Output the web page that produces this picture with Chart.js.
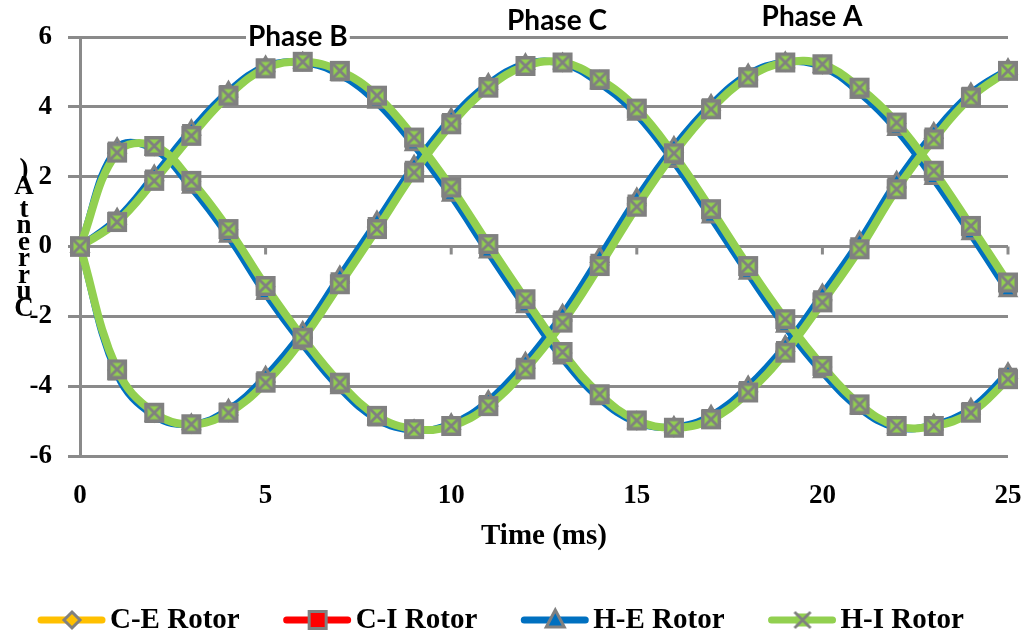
<!DOCTYPE html>
<html>
<head>
<meta charset="utf-8">
<script src="https://cdn.jsdelivr.net/npm/chart.js"></script>
<style>
  html, body { margin: 0; padding: 0; background: #fff; }
  #wrap { width: 1033px; height: 638px; }
</style>
</head>
<body>
<div id="wrap"><canvas id="chart" width="1033" height="638"></canvas></div>
<script>
// Data
const timeMs = [0, 1, 2, 3, 4, 5, 6, 7, 8, 9, 10, 11, 12, 13, 14, 15, 16, 17, 18, 19, 20, 21, 22, 23, 24, 25];
const xTicks = [0, 5, 10, 15, 20, 25];
const yTicks = [6, 4, 2, 0, -2, -4, -6];
const rotors = ['C-E Rotor', 'C-I Rotor', 'H-E Rotor', 'H-I Rotor'];
const phaseNames = ['Phase A', 'Phase B', 'Phase C'];

const ceA = [0, 2.70, 2.87, 1.86, 0.48, -1.15, -2.63, -3.92, -4.86, -5.23, -5.13, -4.55, -3.50, -2.15, -0.53, 1.17, 2.70, 3.95, 4.86, 5.28, 5.21, 4.53, 3.52, 2.14, 0.56, -1.06];
const ceB = [0, 0.71, 1.90, 3.20, 4.34, 5.12, 5.30, 5.02, 4.30, 3.10, 1.66, 0.04, -1.54, -3.05, -4.25, -4.99, -5.19, -4.94, -4.16, -3.01, -1.56, -0.05, 1.67, 3.10, 4.29, 5.04];
const ceC = [0, -3.54, -4.77, -5.09, -4.75, -3.88, -2.62, -1.05, 0.53, 2.15, 3.53, 4.57, 5.18, 5.27, 4.78, 3.93, 2.60, 1.04, -0.59, -2.11, -3.45, -4.54, -5.14, -5.14, -4.74, -3.78];

const ciA = [0, 2.74, 2.84, 1.80, 0.42, -1.22, -2.68, -3.96, -4.89, -5.24, -5.12, -4.52, -3.45, -2.10, -0.47, 1.22, 2.74, 3.98, 4.87, 5.27, 5.19, 4.50, 3.48, 2.08, 0.50, -1.13];
const ciB = [0, 0.74, 1.94, 3.24, 4.36, 5.12, 5.28, 4.99, 4.25, 3.04, 1.60, -0.02, -1.59, -3.09, -4.28, -5.00, -5.18, -4.92, -4.12, -2.97, -1.52, 0.00, 1.72, 3.14, 4.31, 5.05];
const ciC = [0, -3.57, -4.79, -5.09, -4.73, -3.84, -2.57, -1.00, 0.58, 2.19, 3.56, 4.59, 5.19, 5.26, 4.75, 3.89, 2.55, 0.98, -0.64, -2.16, -3.48, -4.56, -5.15, -5.13, -4.72, -3.74];

const heA = [0, 2.82, 2.78, 1.68, 0.28, -1.36, -2.80, -4.06, -4.95, -5.26, -5.08, -4.42, -3.32, -1.95, -0.30, 1.38, 2.86, 4.06, 4.93, 5.28, 5.14, 4.40, 3.34, 1.93, 0.35, -1.28];
const heB = [0, 0.80, 2.04, 3.34, 4.44, 5.16, 5.26, 4.92, 4.12, 2.90, 1.45, -0.17, -1.74, -3.21, -4.36, -5.04, -5.16, -4.84, -4.00, -2.84, -1.37, 0.15, 1.86, 3.26, 4.39, 5.08];
const heC = [0, -3.66, -4.85, -5.09, -4.67, -3.72, -2.44, -0.85, 0.72, 2.32, 3.67, 4.66, 5.23, 5.24, 4.67, 3.77, 2.42, 0.83, -0.78, -2.30, -3.60, -4.64, -5.19, -5.10, -4.64, -3.62];

const hiA = [0, 2.69, 2.88, 1.88, 0.50, -1.13, -2.61, -3.90, -4.85, -5.23, -5.14, -4.57, -3.52, -2.18, -0.56, 1.14, 2.67, 3.93, 4.84, 5.27, 5.22, 4.55, 3.55, 2.17, 0.59, -1.03];
const hiB = [0, 0.70, 1.88, 3.17, 4.32, 5.10, 5.29, 5.03, 4.32, 3.12, 1.69, 0.07, -1.51, -3.02, -4.23, -4.98, -5.19, -4.95, -4.18, -3.04, -1.60, -0.08, 1.64, 3.07, 4.27, 5.03];
const hiC = [0, -3.52, -4.76, -5.09, -4.76, -3.90, -2.65, -1.08, 0.50, 2.12, 3.50, 4.55, 5.17, 5.27, 4.79, 3.95, 2.63, 1.07, -0.56, -2.08, -3.42, -4.52, -5.14, -5.14, -4.76, -3.80];

const rotorData = [[ceA, ceB, ceC], [ciA, ciB, ciC], [heA, heB, heC], [hiA, hiB, hiC]];

// Phase annotations (data coordinates)
const phaseLabels = [
  { text: 'Phase B', x: 5.87, y: 6.0 },
  { text: 'Phase C', x: 12.85, y: 6.46 },
  { text: 'Phase A', x: 19.72, y: 6.57 }
];
const yTitle = 'Current (A)';

const GRID = '#8a8a8a';
const MARK = '#808080';
const serif = "'Liberation Serif', 'Times New Roman', serif";

function hiMarker(bordered) {
  const c = document.createElement('canvas');
  c.width = 22; c.height = 22;
  const g = c.getContext('2d');
  if (bordered) {
    g.fillStyle = MARK; g.fillRect(1, 1, 20, 20);
  }
  g.fillStyle = '#92D050'; g.fillRect(4.5, 4.5, 13, 13);
  g.strokeStyle = MARK; g.lineWidth = 2.8;
  g.beginPath();
  g.moveTo(3, 3); g.lineTo(19, 19);
  g.moveTo(19, 3); g.lineTo(3, 19);
  g.stroke();
  return c;
}

const styles = [
  { color: '#FFC000', width: 4, point: 'rectRot', radius: 8, order: 3 },
  { color: '#FF0000', width: 4, point: 'rect', radius: 11, order: 2 },
  { color: '#0070C0', width: 7, point: 'triangle', radius: 9, order: 1 },
  { color: '#92D050', width: 8, point: hiMarker(true), radius: 11, order: 0 }
];

const datasets = [];
rotors.forEach((name, r) => {
  const s = styles[r];
  rotorData[r].forEach((vals, p) => {
    datasets.push({
      label: name + ' ' + phaseNames[p],
      data: timeMs.map((t, i) => ({ x: t, y: vals[i] })),
      borderColor: s.color,
      backgroundColor: s.color,
      borderWidth: s.width,
      pointStyle: s.point,
      pointRadius: s.radius,
      pointBackgroundColor: s.color,
      pointBorderColor: MARK,
      pointBorderWidth: 3,
      tension: 0.4,
      order: s.order,
      clip: false
    });
  });
});

// small tick marks hanging from the zero line
const zeroTicks = {
  id: 'zeroTicks',
  beforeDatasetsDraw(chart) {
    const { ctx, scales: { x, y } } = chart;
    const y0 = y.getPixelForValue(0);
    ctx.save();
    ctx.strokeStyle = GRID;
    ctx.lineWidth = 3;
    x.ticks.forEach(t => {
      if (t.value === 0) return;
      const px = x.getPixelForValue(t.value);
      ctx.beginPath();
      ctx.moveTo(px, y0);
      ctx.lineTo(px, y0 + 8);
      ctx.stroke();
    });
    ctx.restore();
  }
};

// phase labels, stacked y title and the legend
const extras = {
  id: 'extras',
  afterDraw(chart) {
    const { ctx, scales: { x, y } } = chart;
    ctx.save();

    ctx.font = "bold 28px Lato, 'Open Sans', sans-serif";
    ctx.textAlign = 'center';
    ctx.textBaseline = 'middle';
    phaseLabels.forEach(l => {
      const px = x.getPixelForValue(l.x), py = y.getPixelForValue(l.y);
      const w = ctx.measureText(l.text).width;
      ctx.fillStyle = '#fff';
      ctx.fillRect(px - w / 2 - 2, py - 13, w + 4, 26);
      ctx.fillStyle = '#000';
      ctx.fillText(l.text, px, py);
    });

    // y title: letters stacked bottom-up
    ctx.font = 'bold 27px ' + serif;
    ctx.fillStyle = '#000';
    let cy = 309;
    for (const ch of yTitle) {
      if (ch === '(') continue;
      if (ch === ' ') { cy -= 6; continue; }
      ctx.fillText(ch, 24, cy);
      cy -= (ch === 't') ? 17 : 16.5;
    }

    // legend
    const ly = 620;
    let lx = 38;
    ctx.font = 'bold 29px ' + serif;
    ctx.textAlign = 'left';
    rotors.forEach((name, r) => {
      const s = styles[r];
      ctx.strokeStyle = s.color;
      ctx.lineWidth = 7;
      ctx.lineCap = 'round';
      ctx.beginPath();
      ctx.moveTo(lx + 3, ly); ctx.lineTo(lx + 64, ly);
      ctx.stroke();
      const mx = lx + 34;
      ctx.lineCap = 'butt';
      ctx.lineWidth = 3;
      ctx.strokeStyle = MARK;
      ctx.fillStyle = s.color;
      ctx.beginPath();
      if (r === 0) {
        ctx.moveTo(mx, ly - 8); ctx.lineTo(mx + 8, ly); ctx.lineTo(mx, ly + 8); ctx.lineTo(mx - 8, ly); ctx.closePath();
        ctx.fill(); ctx.stroke();
      } else if (r === 1) {
        ctx.rect(mx - 8.5, ly - 8.5, 17, 17);
        ctx.fill(); ctx.stroke();
      } else if (r === 2) {
        ctx.moveTo(mx, ly - 10); ctx.lineTo(mx + 9, ly + 7); ctx.lineTo(mx - 9, ly + 7); ctx.closePath();
        ctx.fill(); ctx.stroke();
      } else {
        ctx.drawImage(hiMarker(false), mx - 11, ly - 11);
      }
      ctx.fillStyle = '#000';
      ctx.fillText(name, lx + 72, ly + 1);
      lx += 72 + ctx.measureText(name).width + 44;
    });

    ctx.restore();
  }
};

new Chart(document.getElementById('chart'), {
  type: 'line',
  data: { datasets },
  plugins: [zeroTicks, extras],
  options: {
    responsive: false,
    animation: false,
    devicePixelRatio: 1,
    layout: { padding: { left: 0, right: 25, top: 37, bottom: 72 } },
    plugins: { legend: { display: false }, tooltip: { enabled: false } },
    scales: {
      x: {
        type: 'linear', min: 0, max: 25,
        afterBuildTicks: s => { s.ticks = xTicks.map(v => ({ value: v })); },
        ticks: { font: { family: serif, weight: 'bold', size: 27 }, color: '#000', padding: 24, maxRotation: 0 },
        grid: { display: false, drawTicks: false },
        border: { display: false },
        title: { display: true, text: 'Time (ms)', font: { family: serif, weight: 'bold', size: 29 }, color: '#000', padding: { top: 0, bottom: 12 } },
        afterFit: s => { s.height = 110; s.paddingLeft = 0; s.paddingRight = 0; }
      },
      y: {
        min: -6, max: 6,
        afterBuildTicks: s => { s.ticks = yTicks.map(v => ({ value: v })); },
        ticks: { font: { family: serif, weight: 'bold', size: 27 }, color: '#000', padding: 16 },
        grid: { color: GRID, lineWidth: 3, tickLength: 12, drawTicks: true },
        border: { display: true, color: GRID, width: 3 },
        afterFit: s => { s.width = 80; s.paddingTop = 0; s.paddingBottom = 0; }
      }
    }
  }
});
</script>
</body>
</html>
